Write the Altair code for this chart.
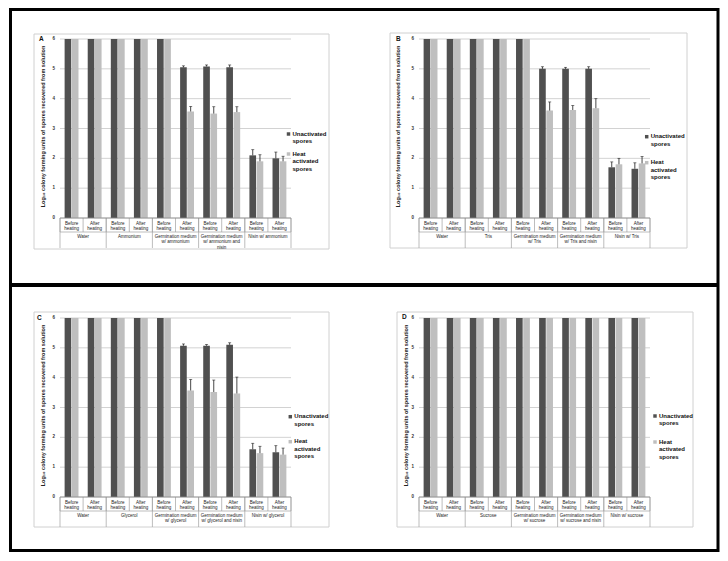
import altair as alt
import pandas as pd

FONT = "Liberation Sans"
series = ["Unactivated spores", "Heat activated spores"]
bar_colors = ["#505050", "#bfbfbf"]
stages = ["Before heating", "After heating"]
y_ticks = [0, 1, 2, 3, 4, 5, 6]
y_title = "Log\u2081\u2080 colony forming units of spores recovered from solution"

# ---- Panel A (ammonium)
groups_A = ["Water", "Ammonium", "Germination medium\nw/ ammonium",
            "Germination medium\nw/ ammonium and\nnisin", "Nisin w/ ammonium"]
unact_A = [6, 6, 6, 6, 6, 5.05, 5.08, 5.05, 2.10, 2.00]
unact_err_A = [0, 0, 0, 0, 0, 0.05, 0.05, 0.08, 0.19, 0.21]
heat_A = [6, 6, 6, 6, 6, 3.57, 3.50, 3.55, 1.90, 1.90]
heat_err_A = [0, 0, 0, 0, 0, 0.17, 0.23, 0.18, 0.22, 0.17]

# ---- Panel B (Tris)
groups_B = ["Water", "Tris", "Germination medium\nw/ Tris",
            "Germination medium\nw/ Tris and nisin", "Nisin w/ Tris"]
unact_B = [6, 6, 6, 6, 6, 5.00, 5.00, 5.00, 1.70, 1.65]
unact_err_B = [0, 0, 0, 0, 0, 0.07, 0.05, 0.07, 0.18, 0.20]
heat_B = [6, 6, 6, 6, 6, 3.60, 3.62, 3.68, 1.80, 1.83]
heat_err_B = [0, 0, 0, 0, 0, 0.29, 0.15, 0.32, 0.20, 0.23]

# ---- Panel C (glycerol)
groups_C = ["Water", "Glycerol", "Germination medium\nw/ glycerol",
            "Germination medium\nw/ glycerol and nisin", "Nisin w/ glycerol"]
unact_C = [6, 6, 6, 6, 6, 5.07, 5.07, 5.10, 1.60, 1.50]
unact_err_C = [0, 0, 0, 0, 0, 0.06, 0.04, 0.07, 0.20, 0.22]
heat_C = [6, 6, 6, 6, 6, 3.57, 3.52, 3.47, 1.47, 1.42]
heat_err_C = [0, 0, 0, 0, 0, 0.37, 0.40, 0.55, 0.23, 0.22]

# ---- Panel D (sucrose)
groups_D = ["Water", "Sucrose", "Germination medium\nw/ sucrose",
            "Germination medium\nw/ sucrose and nisin", "Nisin w/ sucrose"]
unact_D = [6, 6, 6, 6, 6, 6, 6, 6, 6, 6]
unact_err_D = [0, 0, 0, 0, 0, 0, 0, 0, 0, 0]
heat_D = [6, 6, 6, 6, 6, 6, 6, 6, 6, 6]
heat_err_D = [0, 0, 0, 0, 0, 0, 0, 0, 0, 0]

W, H = 231, 179

# layout (pixel offsets relative to each panel's plot area)
LAYOUT = {
    "A": dict(frame=(-26, -5, 269, 210), letter=(-21, 0), ytx=-17, leg=(228.5, 95, 20)),
    "B": dict(frame=(-29, -6, 268, 209), letter=(-23, 0), ytx=-21, leg=(227.7, 97.7, 26)),
    "C": dict(frame=(-26, -6, 269, 209), letter=(-23, 0), ytx=-17, leg=(230.3, 98.7, 25)),
    "D": dict(frame=(-22, -6, 274, 209), letter=(-17, -1), ytx=-13, leg=(236, 98, 26)),
}


def one():
    return alt.Chart(pd.DataFrame({"k": [0]}))


def make_panel(letter, groups, unact, unact_err, heat, heat_err, outer=False):
    lay = LAYOUT[letter]
    n = len(unact)
    rows = []
    for i in range(n):
        rows.append({"idx": i, "series": series[0], "value": unact[i], "err": unact_err[i]})
        rows.append({"idx": i, "series": series[1], "value": heat[i], "err": heat_err[i]})
    df = pd.DataFrame(rows)

    x = alt.X("idx:O", scale=alt.Scale(paddingInner=0.4, paddingOuter=0.2), axis=None)
    xo = alt.XOffset("series:N", sort=series, scale=alt.Scale(paddingInner=0.08))
    yscale = alt.Scale(domain=[0, 6], nice=False)

    tick_df = pd.DataFrame({"v": y_ticks})
    grid = alt.Chart(tick_df).mark_rule(color="#c6c6c6", strokeWidth=0.8).encode(
        y=alt.Y("v:Q", scale=yscale, axis=None), x=alt.value(0), x2=alt.value(W))
    ylabels = alt.Chart(tick_df).mark_text(font=FONT, fontSize=4.5, fontWeight="bold",
                                           align="right", baseline="middle", color="#333").encode(
        y=alt.Y("v:Q", scale=yscale, axis=None), x=alt.value(-5), text="v:N")

    base = alt.Chart(df)
    bars = base.mark_bar().encode(
        x=x, xOffset=xo,
        y=alt.Y("value:Q", scale=yscale, axis=None),
        color=alt.Color("series:N", sort=series,
                        scale=alt.Scale(domain=series, range=bar_colors), legend=None),
    )
    eb = base.transform_filter("datum.err > 0").transform_calculate(top="datum.value + datum.err")
    err_rule = eb.mark_rule(color="#1a1a1a", strokeWidth=0.8).encode(
        x=x, xOffset=xo, y=alt.Y("value:Q", scale=yscale, axis=None), y2="top:Q")
    err_cap = eb.mark_tick(color="#1a1a1a", thickness=0.8, size=3).encode(
        x=x, xOffset=xo, y=alt.Y("top:Q", scale=yscale, axis=None))
    data_layer = alt.layer(bars, err_rule, err_cap)

    qx = alt.X("pos:Q", scale=alt.Scale(domain=[0, n]), axis=None)
    ticks_df = pd.DataFrame({"pos": list(range(n + 1))})
    div_df = pd.DataFrame({"pos": list(range(0, n + 1, 2))})
    cat_df = pd.DataFrame({"pos": [i + 0.5 for i in range(n)],
                           "label": [stages[i % 2] for i in range(n)]})
    grp_df = pd.DataFrame({"pos": [2 * k + 1 for k in range(len(groups))], "label": groups})

    ticks = alt.Chart(ticks_df).mark_rule(color="#a0a0a0", strokeWidth=0.7).encode(
        x=qx, y=alt.value(H), y2=alt.value(H + 14))
    divs = alt.Chart(div_df).mark_rule(color="#a0a0a0", strokeWidth=0.7).encode(
        x=qx, y=alt.value(H), y2=alt.value(H + 30))
    cats = alt.Chart(cat_df).mark_text(font=FONT, fontSize=4.5, baseline="top", lineBreak=" ",
                                       lineHeight=5, color="#222").encode(
        x=qx, y=alt.value(H + 3), text="label:N")
    grps = alt.Chart(grp_df).mark_text(font=FONT, fontSize=4.5, baseline="top", lineBreak="\n",
                                       lineHeight=5.3, color="#222").encode(
        x=qx, y=alt.value(H + 16), text="label:N")
    axis_line = one().mark_rule(color="#8a8a8a", strokeWidth=0.8).encode(
        x=alt.value(0), x2=alt.value(W), y=alt.value(H))
    sep_line = one().mark_rule(color="#a0a0a0", strokeWidth=0.7).encode(
        x=alt.value(0), x2=alt.value(W), y=alt.value(H + 14))
    fx0, fy0, fx1, fy1 = lay["frame"]
    frame = one().mark_rect(fill="white", fillOpacity=0, stroke="#d0d0d0", strokeWidth=1).encode(
        x=alt.value(fx0), x2=alt.value(fx1), y=alt.value(fy0), y2=alt.value(fy1))
    lx, ly = lay["letter"]
    letter_mark = one().mark_text(font=FONT, fontSize=6.5, fontWeight="bold", align="left",
                                  baseline="middle", color="#111").encode(
        x=alt.value(lx), y=alt.value(ly), text=alt.value(letter))
    ytitle = one().mark_text(font=FONT, fontSize=5.5, fontWeight="bold", angle=270,
                             align="center", baseline="middle", color="#222").encode(
        x=alt.value(lay["ytx"]), y=alt.value(H / 2 - 2), text=alt.value(y_title))

    deco = [frame, ticks, divs, cats, grps, axis_line, sep_line, letter_mark, ytitle]
    gx, gy, gap = lay["leg"]
    for j in range(2):
        yy = gy + j * gap
        deco.append(one().mark_square(size=12, color=bar_colors[j], opacity=1).encode(
            x=alt.value(gx), y=alt.value(yy)))
        deco.append(one().mark_text(font=FONT, fontSize=6, fontWeight="bold", align="left",
                                    baseline="top", lineBreak=" ", lineHeight=7.5,
                                    color="#111").encode(
            x=alt.value(gx + 4), y=alt.value(yy - 3.5), text=alt.value(series[j])))
    if outer:
        deco.append(one().mark_rect(fill="white", fillOpacity=0, stroke="black", strokeWidth=3).encode(
            x=alt.value(-49.5), x2=alt.value(658), y=alt.value(-29.5), y2=alt.value(511.5)))
        deco.append(one().mark_rule(color="black", strokeWidth=4).encode(
            x=alt.value(-49.5), x2=alt.value(658), y=alt.value(246)))
    deco_layer = alt.layer(*deco)

    return alt.layer(grid, ylabels, data_layer, deco_layer).resolve_scale(
        x="independent").properties(width=W, height=H)


pA = make_panel("A", groups_A, unact_A, unact_err_A, heat_A, heat_err_A, outer=True)
pB = make_panel("B", groups_B, unact_B, unact_err_B, heat_B, heat_err_B)
pC = make_panel("C", groups_C, unact_C, unact_err_C, heat_C, heat_err_C)
pD = make_panel("D", groups_D, unact_D, unact_err_D, heat_D, heat_err_D)

chart = alt.concat(pA, pB, pC, pD, columns=2, spacing={"row": 100, "column": 128},
                   bounds="flush").properties(padding=0).configure_view(strokeWidth=0)

chart.save("out.html", embed_options={"renderer": "svg", "actions": False})
